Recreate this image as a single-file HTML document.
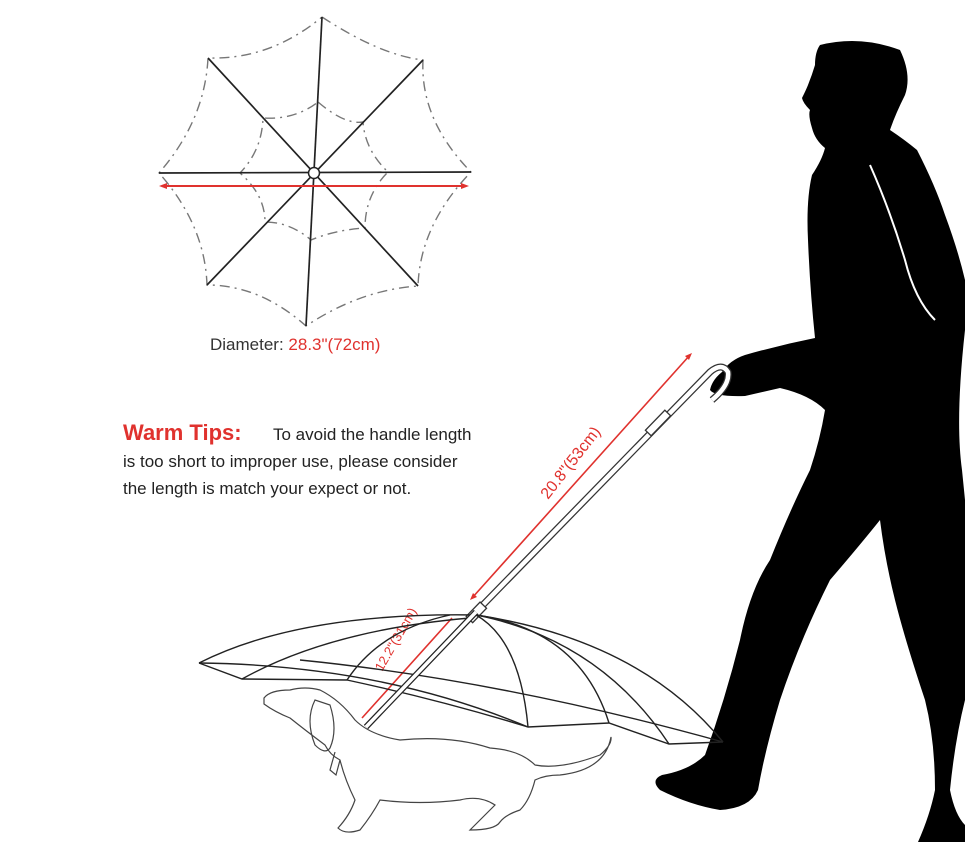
<!DOCTYPE html>
<html><head><meta charset="utf-8"><style>
html,body{margin:0;padding:0;background:#fff;}
svg{display:block;}
</style></head><body>
<svg width="965" height="857" viewBox="0 0 965 857" xmlns="http://www.w3.org/2000/svg" font-family="Liberation Sans, Arial, sans-serif">
<rect width="965" height="857" fill="#fff"/>
<!-- top view umbrella -->
<g fill="none" stroke="#777" stroke-width="1.4" stroke-dasharray="10,5,2,5">
<path d="M322,17 Q380,55 423,60 Q420,120 471,172 Q420,225 418,286 Q360,290 306,326 Q260,285 207,285 Q205,225 159,173 Q205,120 208,58 Q270,60 322,17"/>
<path d="M318,102 Q345,125 363,122 Q365,150 388,172 Q365,195 365,228 Q335,230 311,240 Q290,222 265,222 Q265,195 240,173 Q262,150 263,118 Q295,120 318,102"/>
</g>
<g stroke="#222" stroke-width="1.7">
<line x1="322" y1="17" x2="306" y2="326"/>
<line x1="159" y1="173" x2="471" y2="172"/>
<line x1="208" y1="58" x2="418" y2="286"/>
<line x1="423" y1="60" x2="207" y2="285"/>
</g>
<circle cx="314" cy="173" r="5.5" fill="#fff" stroke="#222" stroke-width="1.5"/>
<g stroke="#e0322e" stroke-width="2" fill="#e0322e">
<line x1="162" y1="186" x2="466" y2="186"/>
<path d="M159,186 l8,-3 v6z M469,186 l-8,-3 v6z" stroke="none"/>
</g>
<text x="210" y="350" font-size="17" fill="#333">Diameter: <tspan fill="#e0322e">28.3"(72cm)</tspan></text>
<text x="123" y="440" font-size="22" font-weight="bold" fill="#e0322e">Warm Tips:</text>
<text x="273" y="440" font-size="17" fill="#222">To avoid the handle length</text>
<text x="123" y="467" font-size="17" fill="#222">is too short to improper use, please consider</text>
<text x="123" y="494" font-size="17" fill="#222">the length is match your expect or not.</text>

<!-- man silhouette -->
<path fill="#000" d="M820,45 Q860,35 900,50 Q912,75 905,95 Q895,115 890,130 Q905,140 917,150 Q935,185 945,215 Q958,250 965,280 L965,330 Q955,420 962,470 L965,500 L965,700 Q955,740 950,790 Q955,815 965,825 L965,842 L918,842 Q930,815 935,790 Q935,740 925,700 Q905,640 895,600 Q885,560 880,520 Q860,545 830,580 Q800,640 780,700 Q765,750 758,790 Q750,808 720,810 Q690,805 660,790 Q650,780 662,775 Q690,770 705,755 Q725,700 740,640 Q750,590 770,560 Q790,510 810,470 Q820,440 825,410 Q810,395 780,388 L745,396 Q715,397 710,390 Q712,380 722,372 Q730,360 745,355 Q780,345 815,338 Q810,290 808,240 Q806,200 812,175 Q822,160 825,148 Q815,140 812,128 Q808,115 810,110 Q803,103 802,98 Q806,90 808,85 Q812,75 815,65 Q815,52 820,45 Z"/>
<path d="M870,165 Q890,210 905,260 Q915,300 935,320" stroke="#fff" stroke-width="2" fill="none"/>

<!-- handle -->
<g fill="none" stroke="#333" stroke-width="1.3">
<path d="M476,612 L710,372 Q722,362 728,372 Q730,385 712,400" stroke-width="7"/>
<path d="M476,612 L710,372 Q722,362 728,372 Q730,385 712,400" stroke="#fff" stroke-width="4.5"/>
<rect x="-4" y="-14" width="8" height="28" transform="translate(658,423) rotate(44)" fill="#fff"/>
<rect x="-4" y="-10" width="9" height="20" transform="translate(476,612) rotate(44)" fill="#fff"/>
</g>
<g stroke="#e0322e" stroke-width="1.6" fill="#e0322e">
<line x1="472" y1="598" x2="690" y2="355"/>
<path d="M692,353 l-7,3 4,4z M470,600 l3,-7 4,4z" stroke="none"/>
<line x1="452" y1="618" x2="362" y2="718"/>
</g>
<text transform="translate(548,500) rotate(-52)" font-size="16" fill="#e0322e">20.8"(53cm)</text>
<text transform="translate(382,672) rotate(-60)" font-size="13" fill="#e0322e">12.2"(31cm)</text>

<!-- side umbrella -->
<g fill="none" stroke="#222" stroke-width="1.4">
<path d="M199,663 Q300,612 476,615"/>
<path d="M476,615 Q640,640 723,742"/>
<path d="M199,663 L242,679 L347,680 Q440,700 528,727 L609,723 L669,744 L723,742"/>
<path d="M199,663 Q380,665 528,727"/>
<path d="M242,679 Q330,630 470,618"/>
<path d="M347,680 Q380,630 450,615"/>
<path d="M476,615 Q520,640 528,727"/>
<path d="M476,615 Q580,630 609,723"/>
<path d="M476,615 Q600,640 669,744"/>
<path d="M300,660 Q500,680 723,742"/>
<path d="M476,612 L366,727" stroke-width="6"/>
<path d="M476,612 L366,727" stroke="#fff" stroke-width="3.5"/>
</g>
<!-- dog -->
<g fill="none" stroke="#444" stroke-width="1.2">
<path d="M264,698 Q270,690 290,690 Q305,686 320,690 Q340,700 355,720 Q370,735 400,740 Q450,735 490,748 Q520,750 535,765 Q560,770 600,755 Q612,745 611,737 Q605,770 560,775 Q545,775 535,780 Q530,800 520,810 Q505,815 500,822 Q495,830 470,830 Q480,820 495,805 Q480,795 460,800 Q420,805 380,800 Q372,815 360,830 Q345,835 338,828 Q350,815 355,800 Q345,780 340,760 Q330,755 325,745 Q305,730 290,718 Q275,712 264,704 Z"/>
<path d="M315,700 Q305,720 315,745 Q325,755 330,748 Q338,730 330,705 Z"/>
<path d="M335,752 L330,770 L336,775 L340,760"/>
</g>
</svg>
</body></html>
